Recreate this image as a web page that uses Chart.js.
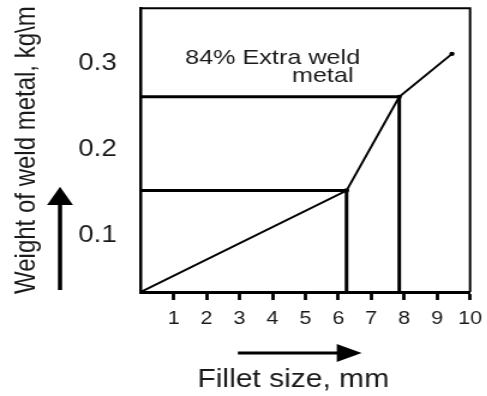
<!DOCTYPE html>
<html>
<head>
<meta charset="utf-8">
<script src="https://cdn.jsdelivr.net/npm/chart.js@4.4.1/dist/chart.umd.min.js"></script>
<style>
  html, body { margin: 0; padding: 0; background: #fff; overflow: hidden; }
  /* the source figure is stretched sideways, so the canvas is too */
  #chart { display: block; transform: scaleX(1.2); transform-origin: 0 0; }
</style>
</head>
<body>
<canvas id="chart" width="406" height="396"></canvas>
<script>
'use strict';

// Fillet size (mm) against weight of weld metal (kg/m)
const FILLET_SIZE = [0, 6.25, 7.85, 9.45];
const WELD_WEIGHT = [0.034, 0.152, 0.261, 0.311];
// points that get guide lines back to both axes
const MARKED = [1, 2];

const X_TICKS = [1, 2, 3, 4, 5, 6, 7, 8, 9, 10];
const Y_TICKS = [0.1, 0.2, 0.3];
const X_RANGE = [0, 10];
const Y_RANGE = [0.034, 0.364];

const ANNOTATION = ['84% Extra weld', 'metal'];
const X_TITLE = 'Fillet size, mm';
const Y_TITLE = 'Weight of weld metal, kg\\m';

const FONT = '"Liberation Sans", Arial, sans-serif';
const INK = '#1a1a1a';

// ── guide lines: across to the y axis, down to the x axis ─────
const guideSets = MARKED.map(i => ({
  data: [
    { x: X_RANGE[0], y: WELD_WEIGHT[i] },
    { x: FILLET_SIZE[i], y: WELD_WEIGHT[i] },
    { x: FILLET_SIZE[i], y: Y_RANGE[0] }
  ],
  showLine: true,
  borderColor: '#000',
  borderWidth: 3,
  pointRadius: 0,
  tension: 0
}));

const curveSet = {
  data: FILLET_SIZE.map((x, i) => ({ x, y: WELD_WEIGHT[i] })),
  showLine: true,
  borderColor: '#000',
  borderWidth: 2,
  pointRadius: 2.2,
  pointBackgroundColor: '#000',
  pointBorderWidth: 0,
  tension: 0
};

// box edges, arrows, annotation and x title
const decorations = {
  id: 'decorations',
  afterDraw(chart) {
    const { ctx, chartArea: ca } = chart;
    ctx.save();
    ctx.strokeStyle = '#000';
    ctx.fillStyle = '#000';

    ctx.lineWidth = 2;
    ctx.beginPath();
    ctx.moveTo(ca.left, ca.top);
    ctx.lineTo(ca.right, ca.top);
    ctx.lineTo(ca.right, ca.bottom);
    ctx.stroke();

    // x arrow
    const ay = ca.bottom + 61;
    ctx.lineWidth = 3;
    ctx.beginPath();
    ctx.moveTo(ca.left + 81, ay);
    ctx.lineTo(ca.left + 165, ay);
    ctx.stroke();
    ctx.beginPath();
    ctx.moveTo(ca.left + 163.4, ay - 9);
    ctx.lineTo(ca.left + 184.2, ay);
    ctx.lineTo(ca.left + 163.4, ay + 9);
    ctx.closePath();
    ctx.fill();

    // y arrow
    const ax = ca.left - 67.2;
    ctx.lineWidth = 3.5;
    ctx.beginPath();
    ctx.moveTo(ax, ca.bottom - 2);
    ctx.lineTo(ax, ca.bottom - 88);
    ctx.stroke();
    ctx.beginPath();
    ctx.moveTo(ax - 10.8, ca.bottom - 87);
    ctx.lineTo(ax, ca.bottom - 105.3);
    ctx.lineTo(ax + 10.8, ca.bottom - 87);
    ctx.closePath();
    ctx.fill();

    ctx.fillStyle = INK;
    ctx.textBaseline = 'alphabetic';
    ctx.textAlign = 'left';
    ctx.font = '21px ' + FONT;
    ctx.fillText(ANNOTATION[0], ca.left + 37, ca.top + 56);
    ctx.fillText(ANNOTATION[1], ca.left + 126, ca.top + 74);

    ctx.textAlign = 'center';
    ctx.font = '25px ' + FONT;
    ctx.fillText(X_TITLE, ca.left + 127.2, ca.bottom + 95);
    ctx.restore();
  }
};

new Chart(document.getElementById('chart'), {
  type: 'scatter',
  data: { datasets: [curveSet, ...guideSets] },
  plugins: [decorations],
  options: {
    responsive: false,
    animation: false,
    events: [],
    layout: { padding: { top: 8.3, right: 14.3, bottom: 0, left: 0 } },
    plugins: { legend: { display: false }, tooltip: { enabled: false } },
    scales: {
      x: {
        type: 'linear',
        min: X_RANGE[0],
        max: X_RANGE[1],
        afterBuildTicks: s => { s.ticks = X_TICKS.map(v => ({ value: v })); },
        afterFit: s => { s.height = 104; s.paddingLeft = 0; s.paddingRight = 0; },
        border: { display: true, color: '#000', width: 3 },
        grid: { drawOnChartArea: false, drawTicks: true, tickLength: 8, tickWidth: 2.8, color: '#000' },
        ticks: {
          color: INK,
          font: { family: FONT, size: 18 },
          padding: 8,
          maxRotation: 0,
          autoSkip: false,
          callback: v => String(v)
        }
      },
      y: {
        type: 'linear',
        min: Y_RANGE[0],
        max: Y_RANGE[1],
        afterBuildTicks: s => { s.ticks = Y_TICKS.map(v => ({ value: v })); },
        afterFit: s => { s.width = 117.2; s.paddingTop = 0; s.paddingBottom = 0; },
        border: { display: true, color: '#000', width: 2.5 },
        grid: { display: false, drawTicks: false },
        ticks: {
          color: INK,
          font: { family: FONT, size: 23 },
          padding: 20,
          callback: v => v.toFixed(1)
        },
        title: {
          display: true,
          text: Y_TITLE,
          color: INK,
          font: { family: FONT, size: 24, lineHeight: 1 },
          padding: { top: 10.5, bottom: 0 }
        }
      }
    }
  }
});
</script>
</body>
</html>
